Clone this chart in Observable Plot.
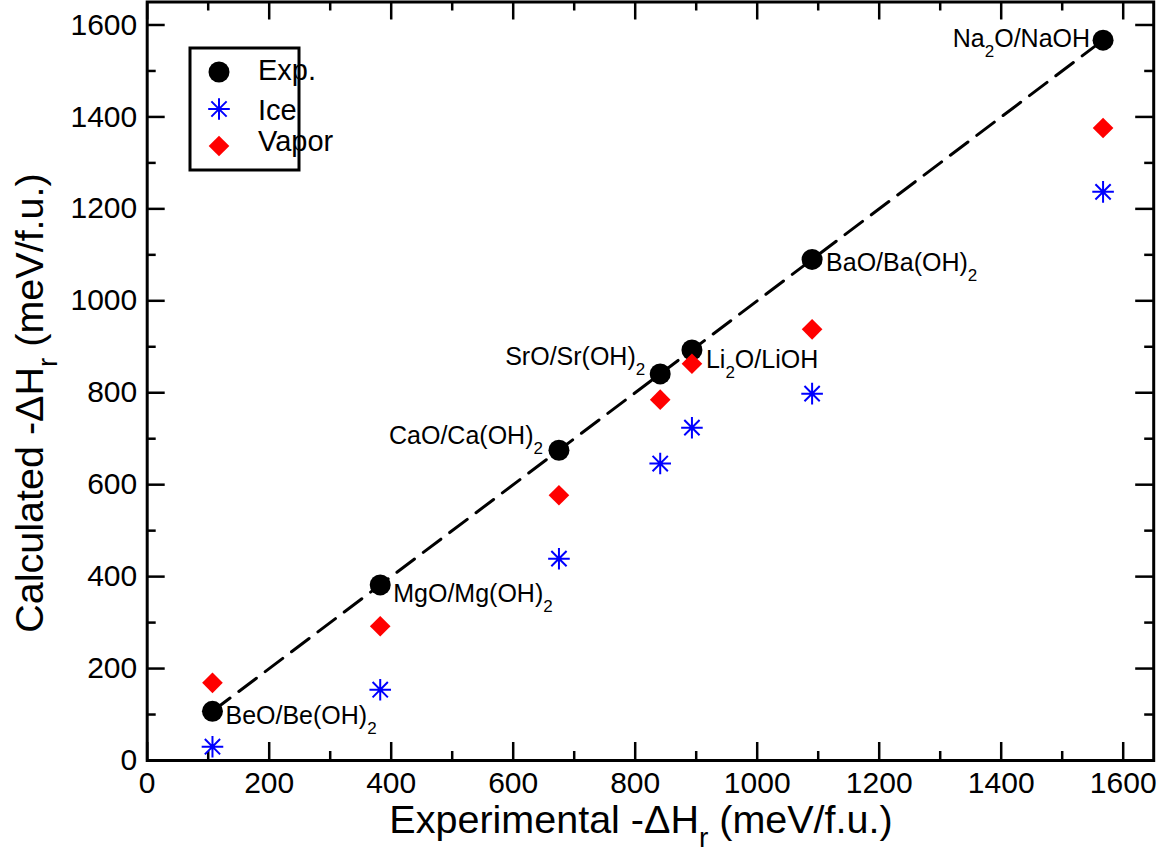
<!DOCTYPE html>
<html>
<head>
<meta charset="utf-8">
<script src="https://cdn.jsdelivr.net/npm/d3@7"></script>
<script src="https://cdn.jsdelivr.net/npm/@observablehq/plot@0.6"></script>
<style>
  html, body { margin: 0; padding: 0; background: #fff; }
  svg { display: block; }
</style>
</head>
<body>
<div id="chart"></div>
<script>
// ---------- data ----------
const compounds    = ["BeO/Be(OH)2", "MgO/Mg(OH)2", "CaO/Ca(OH)2", "SrO/Sr(OH)2", "Li2O/LiOH", "BaO/Ba(OH)2", "Na2O/NaOH"];
const experimental = [107, 382, 675, 841, 893, 1090, 1567];
const calcExp      = [107, 382, 675, 841, 893, 1090, 1567];
const calcIce      = [30, 154, 439, 646, 724, 798, 1237];
const calcVapor    = [169, 292, 577, 785, 863, 938, 1376];
const majorTicks   = [0, 200, 400, 600, 800, 1000, 1200, 1400, 1600];
const minorTicks   = [100, 300, 500, 700, 900, 1100, 1300, 1500];
const seriesNames  = ["Exp.", "Ice", "Vapor"];
const xTitle = ["Experimental -ΔH", "r", " (meV/f.u.)"];
const yTitle = ["Calculated -ΔH", "r", " (meV/f.u.)"];

// ---------- layout ----------
const W = 1167, H = 851;
const mL = 146.7, mR = 13.8, mT = 1.5, mB = 91;
const plotW = W - mL - mR, plotH = H - mT - mB;
const FONT = "'Liberation Sans', Arial, Helvetica, sans-serif";

const rows = compounds.map((c, i) => ({
  compound: c, experimental: experimental[i], exp: calcExp[i], ice: calcIce[i], vapor: calcVapor[i]
}));

const labelLayout = {
  "BeO/Be(OH)2": {anchor: "start", dx: 13, dy: 13},
  "MgO/Mg(OH)2": {anchor: "start", dx: 13, dy: 17},
  "CaO/Ca(OH)2": {anchor: "end", dx: -16, dy: -6},
  "SrO/Sr(OH)2": {anchor: "end", dx: -15, dy: -9},
  "Li2O/LiOH":   {anchor: "start", dx: 14, dy: 18},
  "BaO/Ba(OH)2": {anchor: "start", dx: 14, dy: 12},
  "Na2O/NaOH":   {anchor: "end", dx: -13, dy: 7}
};

// 8-spoke asterisk symbol
const star8 = {
  draw(ctx, size) {
    const r = Math.sqrt(size / Math.PI), d = r * Math.SQRT1_2;
    ctx.moveTo(-r, 0); ctx.lineTo(r, 0);
    ctx.moveTo(0, -r); ctx.lineTo(0, r);
    ctx.moveTo(-d, -d); ctx.lineTo(d, d);
    ctx.moveTo(-d, d); ctx.lineTo(d, -d);
  }
};

const STAR_R = 10.8, DIAM_R = 9.3, CIRC_R = 10.5;
const tickStroke = {stroke: "black", strokeWidth: 2.5};

const svg = Plot.plot({
  width: W, height: H,
  marginLeft: mL, marginRight: mR, marginTop: mT, marginBottom: mB,
  style: {fontFamily: FONT, background: "white", color: "black", overflow: "visible"},
  x: {domain: [0, 1650], axis: null},
  y: {domain: [0, 1650], axis: null},
  marks: [
    // tick labels
    Plot.axisX({ticks: majorTicks, tickSize: 0, tickPadding: 11, label: null, fontSize: 30, tickFormat: d => String(d), fill: "black"}),
    Plot.axisY({ticks: majorTicks, tickSize: 0, tickPadding: 10, label: null, fontSize: 30, tickFormat: d => String(d), fill: "black"}),
    // inward ticks on all four sides
    Plot.tickX(majorTicks, {x: d => d, insetTop: plotH - 18, ...tickStroke}),
    Plot.tickX(minorTicks, {x: d => d, insetTop: plotH - 9, ...tickStroke}),
    Plot.tickX(majorTicks, {x: d => d, insetBottom: plotH - 18, ...tickStroke}),
    Plot.tickX(minorTicks, {x: d => d, insetBottom: plotH - 9, ...tickStroke}),
    Plot.tickY(majorTicks, {y: d => d, insetRight: plotW - 18, ...tickStroke}),
    Plot.tickY(minorTicks, {y: d => d, insetRight: plotW - 9, ...tickStroke}),
    Plot.tickY(majorTicks, {y: d => d, insetLeft: plotW - 18, ...tickStroke}),
    Plot.tickY(minorTicks, {y: d => d, insetLeft: plotW - 9, ...tickStroke}),
    Plot.frame({stroke: "black", strokeWidth: 3}),
    // dashed line through experimental points
    Plot.line(rows, {x: "experimental", y: "exp", stroke: "black", strokeWidth: 3, strokeDasharray: "22,11"}),
    Plot.dot(rows, {x: "experimental", y: "exp", r: CIRC_R, fill: "black", stroke: "none"}),
    Plot.dot(rows, {x: "experimental", y: "ice", symbol: star8, r: STAR_R, stroke: "#0000ff", strokeWidth: 2, fill: "none"}),
    Plot.dot(rows, {x: "experimental", y: "vapor", symbol: "diamond2", r: DIAM_R, fill: "#ff0000", stroke: "none"}),
    ...rows.map(d => {
      const L = labelLayout[d.compound];
      return Plot.text([d], {x: "experimental", y: "exp", text: "compound", textAnchor: L.anchor,
        dx: L.dx, dy: L.dy, lineAnchor: "bottom", fontSize: 25, fill: "black"});
    })
  ]
});

document.getElementById("chart").appendChild(svg);
const root = d3.select(svg);

// subscripts
function writeWithSub(sel, parts, subSize, shift) {
  sel.text(null);
  let down = false;
  for (const [str, isSub] of parts) {
    if (!str) continue;
    const t = sel.append("tspan").text(str);
    if (isSub) { t.attr("font-size", subSize).attr("dy", shift); down = true; }
    else if (down) { t.attr("dy", -shift); down = false; }
  }
}
root.selectAll("text").each(function () {
  const s = this.textContent;
  if (compounds.includes(s)) {
    const parts = s.split(/(2)/).map(p => [p, p === "2"]);
    writeWithSub(d3.select(this), parts, 17, 10);
  }
});

// axis titles
const xt = root.append("text")
  .attr("x", 641).attr("y", 832.7)
  .attr("text-anchor", "middle").attr("font-size", 39.5).attr("font-family", FONT).attr("fill", "black");
writeWithSub(xt, [[xTitle[0], false], [xTitle[1], true], [xTitle[2], false]], 28, 14);

const yt = root.append("text")
  .attr("transform", "translate(43,403) rotate(-90)")
  .attr("text-anchor", "middle").attr("font-size", 39.5).attr("font-family", FONT).attr("fill", "black");
writeWithSub(yt, [[yTitle[0], false], [yTitle[1], true], [yTitle[2], false]], 28, 14);

// legend
const lg = root.append("g").attr("font-family", FONT).attr("font-size", 29).attr("text-anchor", "start");
lg.append("rect").attr("x", 190).attr("y", 48).attr("width", 109).attr("height", 122)
  .attr("fill", "white").attr("stroke", "black").attr("stroke-width", 3);
const symX = 219;
lg.append("circle").attr("cx", symX).attr("cy", 72).attr("r", CIRC_R).attr("fill", "black");
lg.append("path").attr("transform", `translate(${symX},109)`)
  .attr("d", d3.symbol(star8, Math.PI * STAR_R * STAR_R)())
  .attr("fill", "none").attr("stroke", "#0000ff").attr("stroke-width", 2);
lg.append("path").attr("transform", `translate(${symX},146)`)
  .attr("d", d3.symbol(d3.symbolDiamond2, Math.PI * DIAM_R * DIAM_R)())
  .attr("fill", "#ff0000");
const baselines = [80, 120, 151];
seriesNames.forEach((n, i) => {
  lg.append("text").attr("x", 258).attr("y", baselines[i]).attr("text-anchor", "start").attr("fill", "black").text(n);
});
</script>
</body>
</html>
